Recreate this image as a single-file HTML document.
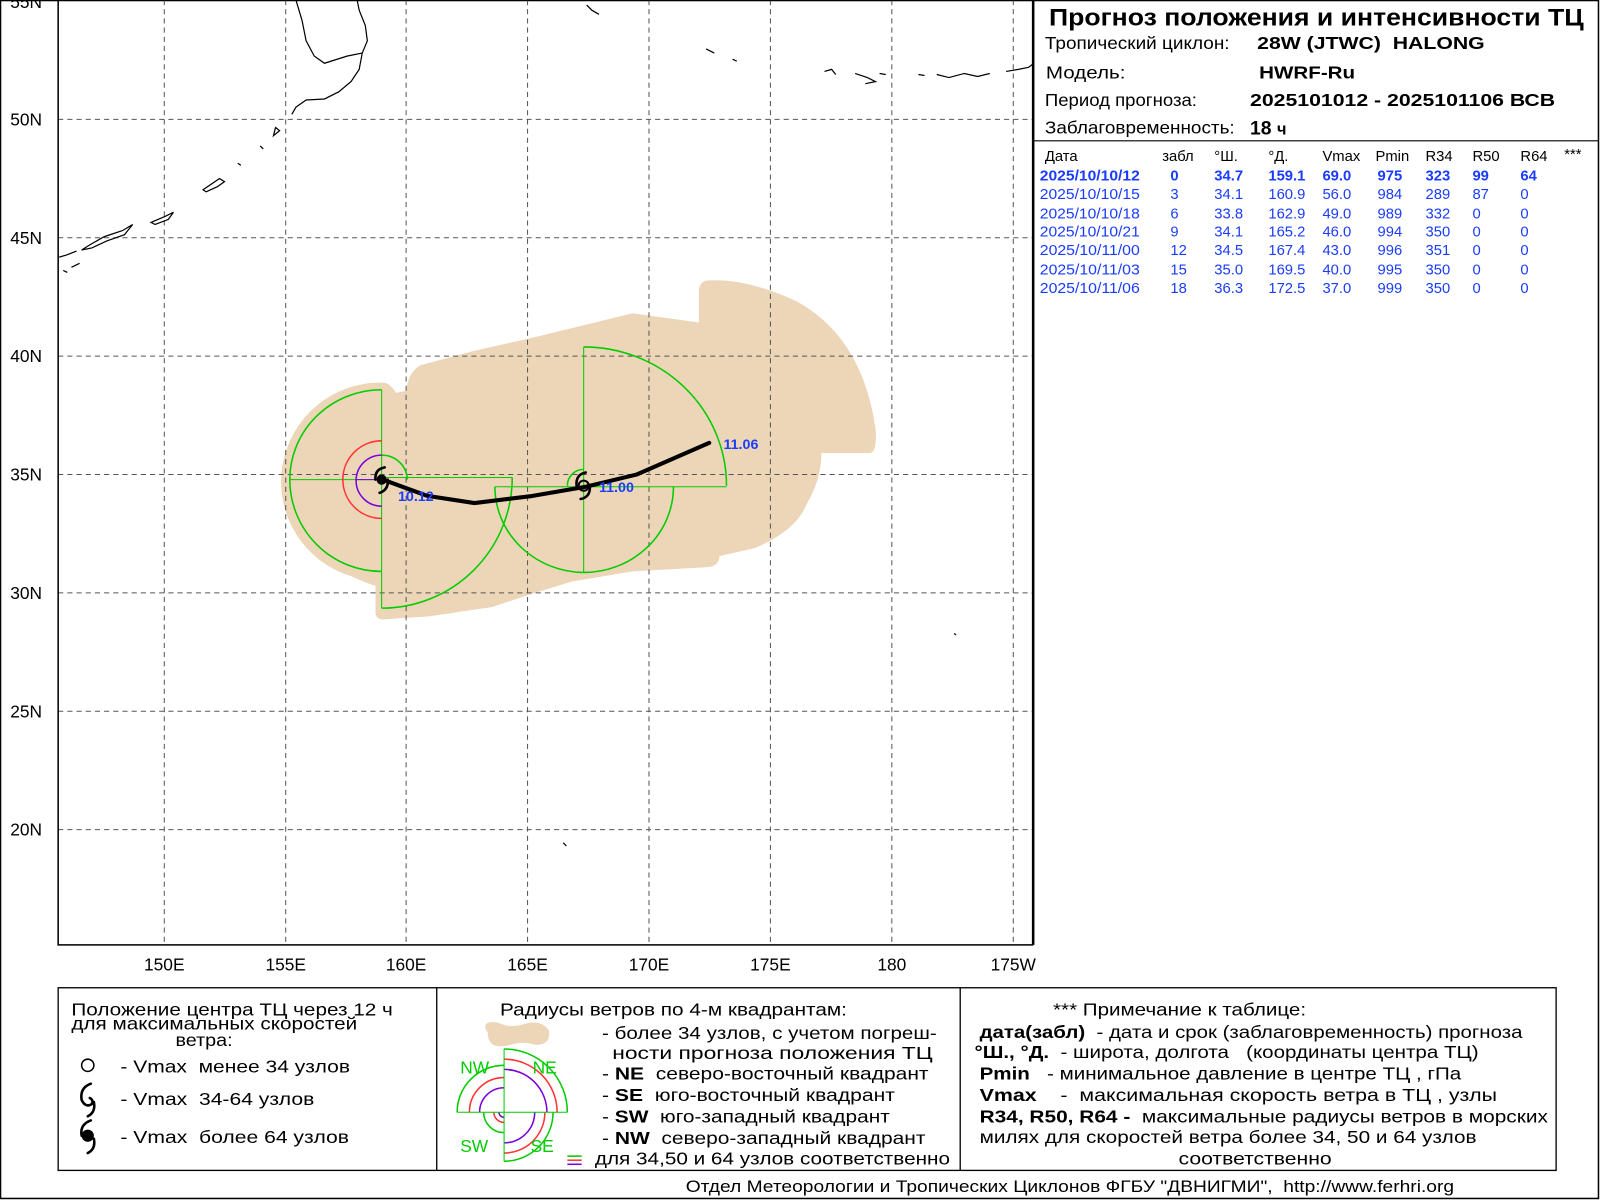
<!DOCTYPE html>
<html><head><meta charset="utf-8"><style>html,body{margin:0;padding:0;background:#fff}svg{display:block}svg text{white-space:pre}</style></head>
<body>
<svg width="1600" height="1200" viewBox="0 0 1568 1176" xmlns="http://www.w3.org/2000/svg" font-family="Liberation Sans, sans-serif">
<rect x="0" y="0" width="1568" height="1176" fill="#fff"/>
<rect x="0.5" y="0.5" width="1566" height="1174" fill="none" stroke="#000" stroke-width="1.5"/>

<path d="M375,375 A97,97 0 0 0 345,565 Q360,572 368,574 L368,600 Q368,607 376,607 L420,604 L482,595 L521,582 L560,570 L620,560 L690,556 Q705,556 705,545 L740,537 Q780,520 790,495 Q805,470 805,444 L852,444 Q860,444 858,420 Q845,330 780,295 Q730,272 692,275 Q685,277 685,285 L685,316 L620,307 L526,330 L464,344 L412,358 Q400,365 398,383 L388,385 Q382,375 375,375 Z" fill="#edd5b7"/>

<g stroke="#555" stroke-width="1" stroke-dasharray="5,4">
<line x1="161" y1="0" x2="161" y2="926"/><line x1="280" y1="0" x2="280" y2="926"/><line x1="398" y1="0" x2="398" y2="926"/><line x1="517" y1="0" x2="517" y2="926"/><line x1="636" y1="0" x2="636" y2="926"/><line x1="755" y1="0" x2="755" y2="926"/><line x1="874" y1="0" x2="874" y2="926"/><line x1="993" y1="0" x2="993" y2="926"/>
<line x1="57" y1="117" x2="1012" y2="117"/><line x1="57" y1="233" x2="1012" y2="233"/><line x1="57" y1="349" x2="1012" y2="349"/><line x1="57" y1="465" x2="1012" y2="465"/><line x1="57" y1="581" x2="1012" y2="581"/><line x1="57" y1="697" x2="1012" y2="697"/><line x1="57" y1="813" x2="1012" y2="813"/>
</g>

<g fill="none" stroke="#000" stroke-width="1.2">
<path d="M290,0 L296,20 L300,40 L308,55 L318,62 L340,55 L355,52 L352,68 L344,80 L332,90 L318,97 L300,98 L290,105 L286,112"/>
<path d="M355,52 L360,40 L358,25 L352,10 L350,0"/>
<path d="M270,125 L274,128 L268,133 Z"/><path d="M255,143 L258,146"/><path d="M233,160 L236,162"/><path d="M215,175 L220,178 L213,183 L202,188 L199,186 Z"/>
<path d="M170,208 L162,212 L148,218 L152,220 L165,215 Z"/><path d="M130,220 L120,226 L102,232 L88,240 L80,245 L90,243 L105,236 L122,230 Z"/>
<path d="M75,246 L65,250 L58,252"/><path d="M78,258 L70,262"/><path d="M62,265 L66,267"/>
<path d="M575,5 L580,10 L587,14"/><path d="M692,48 L700,52"/><path d="M718,58 L722,60"/>
<path d="M808,70 L815,68 L819,73"/><path d="M838,72 L850,76 L858,80 L848,82"/><path d="M862,72 L868,73"/>
<path d="M900,73 L906,74"/><path d="M918,73 L930,76 L945,72 L958,75 L970,72"/><path d="M986,70 L998,68 L1008,66 L1012,63"/>
<path d="M935,621 L937,622"/><path d="M552,826 L555,829"/>
</g>

<g fill="none" stroke-width="1.5">
<path d="M374,382 A90,88 0 0 0 284,470 A90,90 0 0 0 374,560" stroke="#00cc00"/>
<path d="M374,382 L374,596 M284,470 L374,470 M374,468 L502,468" stroke="#00cc00" stroke-width="1"/>
<path d="M502,468 A128,128 0 0 1 374,596" stroke="#00cc00"/>
<path d="M374,446 A25,24 0 0 1 399,470" stroke="#00cc00"/>
<path d="M374,432 A38,38 0 0 0 336,470 A38,38 0 0 0 374,508" stroke="#ff3333"/>
<path d="M374,446 A25,25 0 0 0 349,470 A25,25 0 0 0 374,496" stroke="#7a00dd"/>
<line x1="349" y1="470" x2="374" y2="470" stroke="#7a00dd" stroke-width="1"/>
</g>
<g fill="none" stroke="#00cc00" stroke-width="1.5">
<path d="M572,340 A140,136 0 0 1 712,476"/>
<path d="M572,340 L572,561 M485,477 L712,477" stroke-width="1"/>
<path d="M660,477 A88,84 0 0 1 572,561 A88,84 0 0 1 485,477"/>
<path d="M572,460 A16,16 0 0 0 556,476"/>
</g>

<polyline points="375,470 419,486 465,493 522,486 574,477 624,465 695,434" fill="none" stroke="#000" stroke-width="4" stroke-linejoin="round" stroke-linecap="round"/>

<g fill="none" stroke="#000" stroke-width="2.5" stroke-linecap="round">
<path d="M377,458 Q367,460 368,470 M372,483 Q381,480 380,470"/>
<path d="M574,463 Q564,465 565,476 M569,489 Q579,487 578,476"/>
</g>
<circle cx="374" cy="470" r="5" fill="#000"/>
<circle cx="572" cy="476" r="5" fill="none" stroke="#000" stroke-width="2"/>

<g fill="#1a3cff" font-weight="bold" font-size="14">
<text x="390" y="491">10.12</text><text x="587" y="482">11.00</text><text x="709" y="440">11.06</text>
</g>

<rect x="57" y="0" width="955" height="926" fill="none" stroke="#000" stroke-width="1.5"/>
<line x1="1013" y1="0" x2="1013" y2="926" stroke="#000" stroke-width="1.5"/>

<g font-size="17" fill="#000">
<text x="10" y="8">55N</text><text x="10" y="123">50N</text><text x="10" y="239">45N</text><text x="10" y="355">40N</text><text x="10" y="471">35N</text><text x="10" y="587">30N</text><text x="10" y="703">25N</text><text x="10" y="819">20N</text>
<g text-anchor="middle"><text x="161" y="951">150E</text><text x="280" y="951">155E</text><text x="398" y="951">160E</text><text x="517" y="951">165E</text><text x="636" y="951">170E</text><text x="755" y="951">175E</text><text x="874" y="951">180</text><text x="993" y="951">175W</text></g>
</g>

<text x="1028" y="25" font-size="24" font-weight="bold" textLength="524" lengthAdjust="spacingAndGlyphs">Прогноз положения и интенсивности ТЦ</text>
<g font-size="17">
<text x="1024" y="48" textLength="181" lengthAdjust="spacingAndGlyphs">Тропический циклон:</text><text x="1232" y="48" font-weight="bold" textLength="223" lengthAdjust="spacingAndGlyphs">28W (JTWC)  HALONG</text>
<text x="1025" y="77" textLength="78" lengthAdjust="spacingAndGlyphs">Модель:</text><text x="1234" y="77" font-weight="bold" textLength="94" lengthAdjust="spacingAndGlyphs">HWRF-Ru</text>
<text x="1024" y="104" textLength="149" lengthAdjust="spacingAndGlyphs">Период прогноза:</text><text x="1225" y="104" font-weight="bold" textLength="299" lengthAdjust="spacingAndGlyphs">2025101012 - 2025101106 ВСВ</text>
<text x="1024" y="131" textLength="186" lengthAdjust="spacingAndGlyphs">Заблаговременность:</text><text x="1225" y="132" font-weight="bold" font-size="19">18 <tspan font-size="16">ч</tspan></text>
</g>
<line x1="1013" y1="138" x2="1567" y2="138" stroke="#000" stroke-width="1.2"/>
<g font-size="14.5">
<text x="1024" y="158">Дата</text><text x="1139" y="158">забл</text><text x="1190" y="158">°Ш.</text><text x="1243" y="158">°Д.</text><text x="1296" y="158">Vmax</text><text x="1348" y="158">Pmin</text><text x="1397" y="158">R34</text><text x="1443" y="158">R50</text><text x="1490" y="158">R64</text><text x="1533" y="156">***</text>
</g>
<g font-size="14.5" fill="#1a3cff">
<g font-weight="bold"><text x="1019" y="177" textLength="98" lengthAdjust="spacingAndGlyphs">2025/10/10/12</text><text x="1147" y="177">0</text><text x="1190" y="177">34.7</text><text x="1243" y="177">159.1</text><text x="1296" y="177">69.0</text><text x="1350" y="177">975</text><text x="1397" y="177">323</text><text x="1443" y="177">99</text><text x="1490" y="177">64</text></g>
<text x="1019" y="195" textLength="98" lengthAdjust="spacingAndGlyphs">2025/10/10/15</text><text x="1147" y="195">3</text><text x="1190" y="195">34.1</text><text x="1243" y="195">160.9</text><text x="1296" y="195">56.0</text><text x="1350" y="195">984</text><text x="1397" y="195">289</text><text x="1443" y="195">87</text><text x="1490" y="195">0</text>
<text x="1019" y="214" textLength="98" lengthAdjust="spacingAndGlyphs">2025/10/10/18</text><text x="1147" y="214">6</text><text x="1190" y="214">33.8</text><text x="1243" y="214">162.9</text><text x="1296" y="214">49.0</text><text x="1350" y="214">989</text><text x="1397" y="214">332</text><text x="1443" y="214">0</text><text x="1490" y="214">0</text>
<text x="1019" y="232" textLength="98" lengthAdjust="spacingAndGlyphs">2025/10/10/21</text><text x="1147" y="232">9</text><text x="1190" y="232">34.1</text><text x="1243" y="232">165.2</text><text x="1296" y="232">46.0</text><text x="1350" y="232">994</text><text x="1397" y="232">350</text><text x="1443" y="232">0</text><text x="1490" y="232">0</text>
<text x="1019" y="250" textLength="98" lengthAdjust="spacingAndGlyphs">2025/10/11/00</text><text x="1147" y="250">12</text><text x="1190" y="250">34.5</text><text x="1243" y="250">167.4</text><text x="1296" y="250">43.0</text><text x="1350" y="250">996</text><text x="1397" y="250">351</text><text x="1443" y="250">0</text><text x="1490" y="250">0</text>
<text x="1019" y="269" textLength="98" lengthAdjust="spacingAndGlyphs">2025/10/11/03</text><text x="1147" y="269">15</text><text x="1190" y="269">35.0</text><text x="1243" y="269">169.5</text><text x="1296" y="269">40.0</text><text x="1350" y="269">995</text><text x="1397" y="269">350</text><text x="1443" y="269">0</text><text x="1490" y="269">0</text>
<text x="1019" y="287" textLength="98" lengthAdjust="spacingAndGlyphs">2025/10/11/06</text><text x="1147" y="287">18</text><text x="1190" y="287">36.3</text><text x="1243" y="287">172.5</text><text x="1296" y="287">37.0</text><text x="1350" y="287">999</text><text x="1397" y="287">350</text><text x="1443" y="287">0</text><text x="1490" y="287">0</text>
</g>

<rect x="57" y="968" width="1468" height="179" fill="none" stroke="#000" stroke-width="1.3"/>
<line x1="428" y1="968" x2="428" y2="1147" stroke="#000" stroke-width="1.3"/>
<line x1="941" y1="968" x2="941" y2="1147" stroke="#000" stroke-width="1.3"/>
<g font-size="17">
<text x="70" y="995" textLength="315" lengthAdjust="spacingAndGlyphs">Положение центра ТЦ через 12 ч</text>
<text x="70" y="1009" textLength="280" lengthAdjust="spacingAndGlyphs">для максимальных скоростей</text>
<text x="172" y="1025" textLength="56" lengthAdjust="spacingAndGlyphs">ветра:</text>
<text x="118" y="1051" textLength="225" lengthAdjust="spacingAndGlyphs">- Vmax  менее 34 узлов</text>
<text x="118" y="1083" textLength="190" lengthAdjust="spacingAndGlyphs">- Vmax  34-64 узлов</text>
<text x="118" y="1120" textLength="224" lengthAdjust="spacingAndGlyphs">- Vmax  более 64 узлов</text>
</g>
<circle cx="86" cy="1044" r="6" fill="none" stroke="#000" stroke-width="1.5"/>
<g fill="none" stroke="#000" stroke-width="2.5" stroke-linecap="round">
<path d="M89,1062 Q78,1066 80,1078 Q84,1086 90,1082 Q92,1078 88,1076 M86,1094 Q94,1090 92,1080"/>
<path d="M89,1098 Q78,1102 80,1113 M86,1130 Q94,1126 92,1116"/>
</g>
<circle cx="86" cy="1113" r="6" fill="#000"/>

<text x="490" y="995" font-size="17" textLength="340" lengthAdjust="spacingAndGlyphs">Радиусы ветров по 4-м квадрантам:</text>
<path d="M478,1012 Q470,1000 488,1002 Q500,1008 512,1004 Q530,998 538,1010 Q540,1024 525,1024 Q512,1020 500,1024 Q478,1030 478,1012 Z" fill="#edd5b7"/>
<g fill="none" stroke-width="1.5">
<path d="M494,1028 A62,62 0 0 1 556,1090" stroke="#00cc00"/>
<path d="M494,1038 A52,52 0 0 1 546,1090" stroke="#ff3333"/>
<path d="M494,1048 A42,42 0 0 1 536,1090" stroke="#7a00dd"/>
<path d="M494,1044 A46,46 0 0 0 448,1090" stroke="#00cc00"/>
<path d="M494,1056 A34,34 0 0 0 460,1090" stroke="#ff3333"/>
<path d="M494,1066 A24,24 0 0 0 470,1090" stroke="#7a00dd"/>
<path d="M542,1090 A48,48 0 0 1 494,1138" stroke="#00cc00"/>
<path d="M534,1090 A40,40 0 0 1 494,1130" stroke="#ff3333"/>
<path d="M524,1090 A30,30 0 0 1 494,1120" stroke="#7a00dd"/>
<path d="M474,1090 A20,20 0 0 0 494,1110" stroke="#00cc00"/>
<path d="M484,1090 A10,10 0 0 0 494,1100" stroke="#ff3333"/>
<path d="M489,1090 A5,5 0 0 0 494,1095" stroke="#7a00dd"/>
<path d="M494,1028 L494,1138 M448,1090 L556,1090" stroke="#00cc00" stroke-width="1"/>
</g>
<g font-size="17" fill="#00cc00"><text x="451" y="1052">NW</text><text x="522" y="1052">NE</text><text x="451" y="1129">SW</text><text x="520" y="1129">SE</text></g>
<g stroke-width="1.5"><line x1="556" y1="1133" x2="570" y2="1133" stroke="#00cc00"/><line x1="556" y1="1137" x2="570" y2="1137" stroke="#ff3333"/><line x1="556" y1="1141" x2="570" y2="1141" stroke="#7a00dd"/></g>
<g font-size="17">
<text x="590" y="1018" textLength="328" lengthAdjust="spacingAndGlyphs">- более 34 узлов, с учетом погреш-</text>
<text x="600" y="1038" textLength="314" lengthAdjust="spacingAndGlyphs">ности прогноза положения ТЦ</text>
<text x="590" y="1058" textLength="320" lengthAdjust="spacingAndGlyphs">- <tspan font-weight="bold">NE</tspan>  северо-восточный квадрант</text>
<text x="590" y="1079" textLength="287" lengthAdjust="spacingAndGlyphs">- <tspan font-weight="bold">SE</tspan>  юго-восточный квадрант</text>
<text x="590" y="1100" textLength="282" lengthAdjust="spacingAndGlyphs">- <tspan font-weight="bold">SW</tspan>  юго-западный квадрант</text>
<text x="590" y="1121" textLength="317" lengthAdjust="spacingAndGlyphs">- <tspan font-weight="bold">NW</tspan>  северо-западный квадрант</text>
<text x="583" y="1141" textLength="348" lengthAdjust="spacingAndGlyphs">для 34,50 и 64 узлов соответственно</text>
</g>
<g font-size="17">
<text x="1032" y="995" textLength="248" lengthAdjust="spacingAndGlyphs">*** Примечание к таблице:</text>
<text x="960" y="1017" textLength="532" lengthAdjust="spacingAndGlyphs"><tspan font-weight="bold">дата(забл)</tspan>  - дата и срок (заблаговременность) прогноза</text>
<text x="955" y="1037" textLength="494" lengthAdjust="spacingAndGlyphs"><tspan font-weight="bold">°Ш., °Д.</tspan>  - широта, долгота   (координаты центра ТЦ)</text>
<text x="960" y="1058" textLength="472" lengthAdjust="spacingAndGlyphs"><tspan font-weight="bold">Pmin</tspan>   - минимальное давление в центре ТЦ , гПа</text>
<text x="960" y="1079" textLength="507" lengthAdjust="spacingAndGlyphs"><tspan font-weight="bold">Vmax</tspan>    -  максимальная скорость ветра в ТЦ , узлы</text>
<text x="960" y="1100" textLength="557" lengthAdjust="spacingAndGlyphs"><tspan font-weight="bold">R34, R50, R64 -</tspan>  максимальные радиусы ветров в морских</text>
<text x="960" y="1120" textLength="487" lengthAdjust="spacingAndGlyphs">милях для скоростей ветра более 34, 50 и 64 узлов</text>
<text x="1155" y="1141" textLength="150" lengthAdjust="spacingAndGlyphs">соответственно</text>
</g>
<text x="672" y="1168" font-size="16" textLength="753" lengthAdjust="spacingAndGlyphs">Отдел Метеорологии и Тропических Циклонов ФГБУ "ДВНИГМИ",  http://www.ferhri.org</text>
</svg>
</body></html>
